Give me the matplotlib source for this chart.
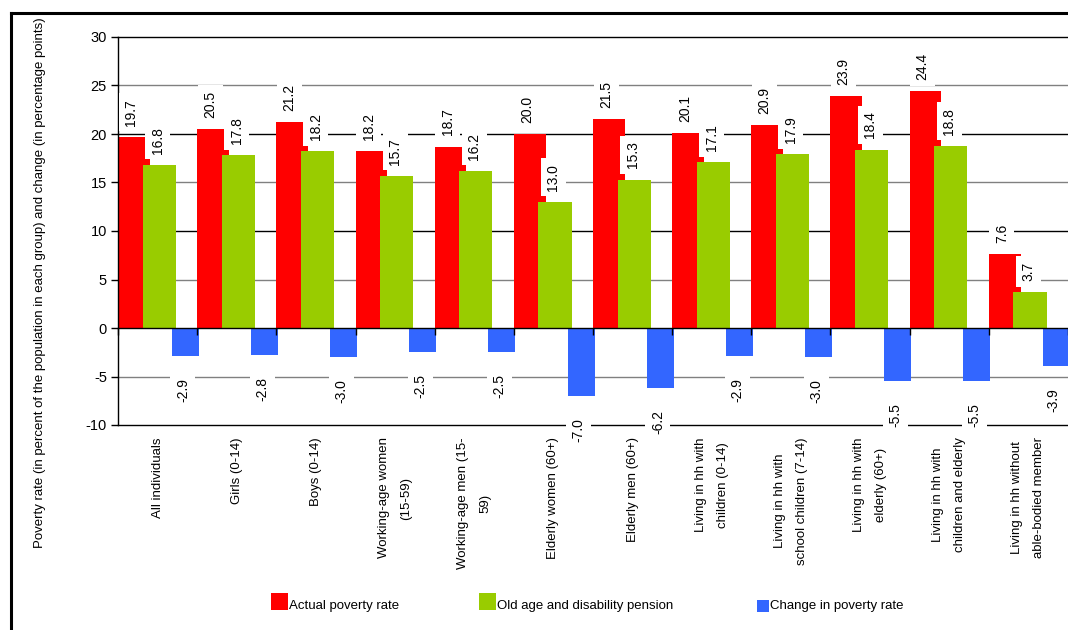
import matplotlib
matplotlib.use("Agg")
import matplotlib.pyplot as plt
from matplotlib.patches import Rectangle
from matplotlib.lines import Line2D
import numpy as np

plt.rcParams['font.family'] = ['Liberation Sans', 'DejaVu Sans']

categories = [
    "All individuals",
    "Girls (0-14)",
    "Boys (0-14)",
    "Working-age women\n(15-59)",
    "Working-age men (15-\n59)",
    "Elderly women (60+)",
    "Elderly men (60+)",
    "Living in hh with\nchildren (0-14)",
    "Living in hh with\nschool children (7-14)",
    "Living in hh with\nelderly (60+)",
    "Living in hh with\nchildren and elderly",
    "Living in hh without\nable-bodied member",
]
actual_rate = [19.7, 20.5, 21.2, 18.2, 18.7, 20.0, 21.5, 20.1, 20.9, 23.9, 24.4, 7.6]
pension_rate = [16.8, 17.8, 18.2, 15.7, 16.2, 13.0, 15.3, 17.1, 17.9, 18.4, 18.8, 3.7]
change_rate = [-2.9, -2.8, -3.0, -2.5, -2.5, -7.0, -6.2, -2.9, -3.0, -5.5, -5.5, -3.9]

series_names = ["Actual poverty rate", "Old age and disability pension", "Change in poverty rate"]
colors = ["#FF0000", "#99CC00", "#3366FF"]
y_ticks = [30, 25, 20, 15, 10, 5, 0, -5, -10]

W, H = 1068, 630
fig = plt.figure(figsize=(W / 100, H / 100), dpi=100)
ax = fig.add_axes([118 / W, 1 - 425 / H, 1 - 118 / W, (425 - 37) / H])

n = len(categories)
idx = np.arange(n)

# bars: each category occupies one unit, the three series overlap slightly
ax.bar(idx, actual_rate, width=0.40, align='edge', color=colors[0], zorder=1)
ax.bar(idx + 0.31, pension_rate, width=0.42, align='edge', color=colors[1], zorder=1.1)
ax.bar(idx + 0.68, change_rate, width=0.34, align='edge', color=colors[2], zorder=1.1)

ax.set_xlim(0, n)
ax.set_ylim(-10, 30)

# horizontal reference lines: black at tens, grey at fives
for t in y_ticks:
    if t == 0:
        continue
    c = "black" if t % 10 == 0 else "#808080"
    ax.axhline(t, color=c, lw=1.0, zorder=0.5, clip_on=False)

ax.spines['top'].set_visible(False)
ax.spines['right'].set_visible(False)
ax.spines['left'].set_linewidth(1.0)
ax.spines['bottom'].set_position(('data', 0))
ax.spines['bottom'].set_linewidth(1.0)

ax.set_yticks(y_ticks)
ax.set_yticklabels([str(t) for t in y_ticks], fontsize=10.5)
ax.tick_params(axis='y', direction='out', length=5, width=1, pad=3)
ax.set_xticks(np.arange(0, n + 1))
ax.set_xticklabels([])
ax.tick_params(axis='x', direction='out', length=5, width=1)

box = dict(boxstyle='square,pad=0.4', facecolor='white', edgecolor='none')
lab_fs = 10

for i in range(n):
    ax.annotate(f"{actual_rate[i]:.1f}", xy=(i + 0.165, actual_rate[i]), xytext=(0, 8),
                textcoords='offset points', rotation=90, ha='center', va='bottom',
                fontsize=lab_fs, bbox=box, zorder=4, annotation_clip=False)
    ax.annotate(f"{pension_rate[i]:.1f}", xy=(i + 0.50, pension_rate[i]), xytext=(0, 8),
                textcoords='offset points', rotation=90, ha='center', va='bottom',
                fontsize=lab_fs, bbox=box, zorder=4, annotation_clip=False)
    ax.annotate(f"{change_rate[i]:.1f}", xy=(i + 0.82, change_rate[i]), xytext=(0, -16),
                textcoords='offset points', rotation=90, ha='center', va='top',
                fontsize=lab_fs, bbox=box, zorder=4, annotation_clip=False)
    ax.annotate(categories[i], xy=(i + 0.5, -10), xytext=(0, -9),
                textcoords='offset points', rotation=90, ha='center', va='top',
                multialignment='center', fontsize=9.5, linespacing=2.1,
                annotation_clip=False)

fig.text(40 / W, 1 - 283 / H,
         "Poverty rate (in percent of the population in each group) and change (in percentage points)",
         rotation=90, ha='center', va='center', fontsize=9.5)

# legend drawn in pixel positions along the bottom
legend_items = [(271, 593, 17), (479, 593, 17), (757, 600, 12)]
for (x0, y0, s), name, col in zip(legend_items, series_names, colors):
    fig.patches.append(Rectangle((x0 / W, 1 - (y0 + s) / H), s / W, s / H,
                                 transform=fig.transFigure, facecolor=col,
                                 edgecolor='none'))
    fig.text((x0 + s + 1) / W, 1 - 606 / H, name, ha='left', va='center', fontsize=9.5)

# outer frame (top and left edges)
fig.add_artist(Line2D([10.5 / W, 1], [1 - 13 / H, 1 - 13 / H], color='black', lw=2.2,
                      transform=fig.transFigure))
fig.add_artist(Line2D([11 / W, 11 / W], [0, 1 - 13 / H], color='black', lw=2.2,
                      transform=fig.transFigure))

fig.savefig("out.png", dpi=100)
